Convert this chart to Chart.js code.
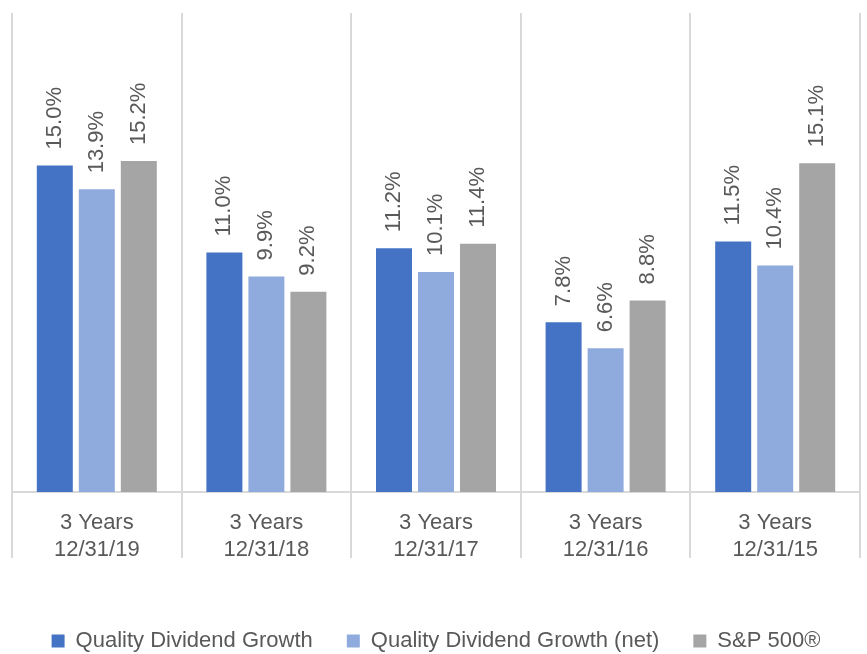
<!DOCTYPE html>
<html>
<head>
<meta charset="utf-8">
<script src="https://cdn.jsdelivr.net/npm/chart.js@4/dist/chart.umd.min.js"></script>
<style>
  html, body { margin: 0; padding: 0; background: #fff; }
  #wrap { width: 867px; height: 654px; position: relative; }
</style>
</head>
<body>
<div id="wrap"><canvas id="chart"></canvas></div>
<script>
// Chart data
const categories = [
  ['3 Years', '12/31/19'],
  ['3 Years', '12/31/18'],
  ['3 Years', '12/31/17'],
  ['3 Years', '12/31/16'],
  ['3 Years', '12/31/15']
];
const seriesNames = ['Quality Dividend Growth', 'Quality Dividend Growth (net)', 'S&P 500®'];
const qdgValues = [15.0, 11.0, 11.2, 7.8, 11.5];
const qdgNetValues = [13.9, 9.9, 10.1, 6.6, 10.4];
const spValues = [15.2, 9.2, 11.4, 8.8, 15.1];

const FONT = "'Liberation Sans', Arial, sans-serif";
const TEXT = '#595959';

// Rotated value labels above each bar
const barLabels = {
  id: 'barLabels',
  afterDatasetsDraw(chart) {
    const ctx = chart.ctx;
    ctx.save();
    ctx.font = '22px ' + FONT;
    ctx.fillStyle = TEXT;
    ctx.textAlign = 'left';
    ctx.textBaseline = 'middle';
    chart.data.datasets.forEach((ds, i) => {
      const meta = chart.getDatasetMeta(i);
      meta.data.forEach((bar, j) => {
        ctx.save();
        ctx.translate(bar.x, bar.y - 16);
        ctx.rotate(-Math.PI / 2);
        ctx.fillText(ds.data[j].toFixed(1) + '%', 0, 0);
        ctx.restore();
      });
    });
    ctx.restore();
  }
};

new Chart(document.getElementById('chart'), {
  type: 'bar',
  data: {
    labels: categories,
    datasets: [
      { label: seriesNames[0], data: qdgValues, backgroundColor: '#4472C4' },
      { label: seriesNames[1], data: qdgNetValues, backgroundColor: '#8FAADC' },
      { label: seriesNames[2], data: spValues, backgroundColor: '#A5A5A5' }
    ]
  },
  options: {
    responsive: true,
    maintainAspectRatio: false,
    animation: false,
    events: [],
    datasets: {
      bar: {
        categoryPercentage: 0.743,
        barPercentage: 0.857,
        borderWidth: 0
      }
    },
    layout: {
      padding: { left: 12, right: 7, top: 13, bottom: -8 }
    },
    plugins: {
      tooltip: { enabled: false },
      legend: {
        position: 'bottom',
        labels: {
          boxWidth: 13,
          boxHeight: 13,
          padding: 34,
          color: TEXT,
          font: { family: FONT, size: 22 }
        }
      }
    },
    scales: {
      x: {
        afterFit(scale) { scale.height = 104; },
        grid: {
          offset: true,
          color: '#d9d9d9',
          lineWidth: 2,
          tickLength: 66
        },
        border: { display: true, color: '#d9d9d9', width: 2 },
        ticks: {
          padding: -48,
          color: TEXT,
          font: { family: FONT, size: 22 },
          maxRotation: 0
        }
      },
      y: {
        display: false,
        min: 0,
        max: 22
      }
    }
  },
  plugins: [barLabels]
});
</script>
</body>
</html>
